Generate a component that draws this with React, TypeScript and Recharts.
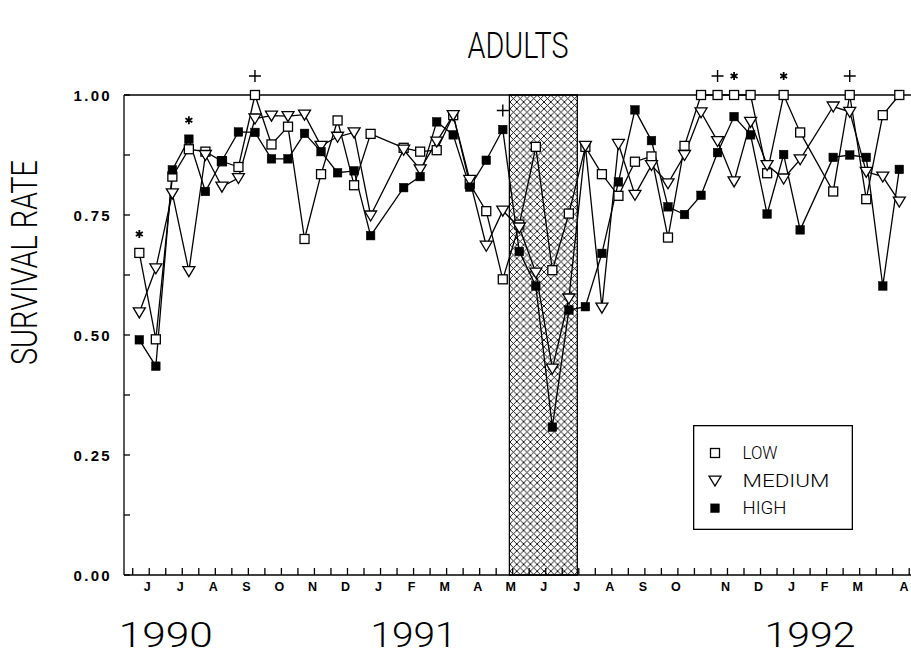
import { ComposedChart, Line, Scatter, XAxis, YAxis, ReferenceArea, ReferenceLine, Legend } from 'recharts'

// adult survival, one sample per half month from June 1990 (null = no sample that period)
const low = [0.671, 0.491, 0.830, 0.887, 0.882, 0.862, 0.850, 1.0, 0.897, 0.934, 0.700, 0.835, 0.947, 0.812, 0.919, null,
  0.890, 0.882, 0.885, 0.958, 0.815, 0.758, 0.616, 0.730, 0.892, 0.635, 0.753, 0.892, 0.835, 0.790, 0.861, 0.872,
  0.703, 0.894, 1.0, 1.0, 1.0, 1.0, 0.837, 1.0, 0.922, null, 0.799, 1.0, 0.783, 0.958, 1.0]
const medium = [0.547, 0.639, 0.795, 0.633, 0.875, 0.809, 0.827, 0.951, 0.957, 0.956, 0.959, 0.894, 0.913, 0.922, 0.749, null,
  0.886, 0.845, 0.903, 0.958, 0.823, 0.686, 0.759, 0.724, 0.630, 0.430, 0.576, 0.894, 0.557, 0.898, 0.792, 0.854,
  0.816, 0.875, 0.964, 0.904, 0.820, 0.944, 0.854, 0.826, 0.866, null, 0.976, 0.965, 0.840, 0.830, 0.778]
const high = [0.490, 0.435, 0.844, 0.908, 0.799, 0.863, 0.923, 0.922, 0.867, 0.867, 0.920, 0.882, 0.838, 0.842, 0.707, null,
  0.807, 0.830, 0.944, 0.917, 0.808, 0.864, 0.928, 0.674, 0.602, 0.308, 0.552, 0.559, 0.670, 0.819, 0.969, 0.905,
  0.767, 0.751, 0.791, 0.880, 0.955, 0.917, 0.752, 0.876, 0.719, null, 0.870, 0.875, 0.870, 0.602, 0.845]

// half-month ticks, labelled at mid-month
const monthLabels = ['', 'J', '', 'J', '', 'A', '', 'S', '', 'O', '', 'N', '', 'D', '', 'J', '', 'F', '', 'M', '', 'A', '',
  'M', '', 'J', '', 'J', '', 'A', '', 'S', '', 'O', '', '', 'N', '', 'D', '', 'J', '', 'F', '', 'M', '', '', 'A']
const yearLabels: Record<number, string> = { 2: '1990', 17: '1991', 41: '1992' }
const yearWidths: Record<string, number> = { '1990': 94, '1991': 86, '1992': 91 }

const leftTicks = [0, 0.125, 0.25, 0.375, 0.5, 0.625, 0.75, 0.875, 1]
const rightTicks = [0.25, 0.5, 0.75]

// drought period (shaded), in half-month units
const droughtStart = 22.8
const droughtEnd = 26.91

// significance marks above points
const marks = [
  { i: 0, series: 'low', mark: '*' },
  { i: 3, series: 'high', mark: '*' },
  { i: 7, series: 'low', mark: '+' },
  { i: 22, series: 'high', mark: '+' },
  { i: 35, series: 'low', mark: '+' },
  { i: 36, series: 'low', mark: '*' },
  { i: 39, series: 'low', mark: '*' },
  { i: 43, series: 'low', mark: '+' },
]

const legendOrder = ['low', 'medium', 'high']

const seriesMap: Record<string, (number | null)[]> = { low, medium, high }
const OFFSET = 0.4 // samples fall a little after each tick

const data = low.map((_, i) => ({ x: i + OFFSET, low: low[i], medium: medium[i], high: high[i] }))
const markData = marks.map((m) => ({ x: m.i + OFFSET, y: seriesMap[m.series][m.i], mark: m.mark }))

const LIGHT = 'Roboto, "Liberation Sans", sans-serif'
const BOLD = '"Liberation Sans", Arial, sans-serif'

const SW = 1.3

function OpenSquare({ cx, cy }: any) {
  return <rect x={cx - 4.5} y={cy - 4.5} width={9} height={9} fill="#fff" stroke="#000" strokeWidth={SW} />
}
function FilledSquare({ cx, cy }: any) {
  return <rect x={cx - 4.3} y={cy - 4.3} width={8.6} height={8.6} fill="#000" stroke="#000" strokeWidth={0.5} />
}
function DownTriangle({ cx, cy }: any) {
  return <polygon points={`${cx - 6},${cy - 4.5} ${cx + 6},${cy - 4.5} ${cx},${cy + 5.5}`} fill="#fff" stroke="#000" strokeWidth={SW} />
}

const dotFor = (Shape: any) => (p: any) => {
  if (p.cy == null || p.value == null) return <g key={`d-${p.index}`} />
  return <Shape key={`d-${p.index}`} cx={p.cx} cy={p.cy} />
}

function SigMark(props: any) {
  const { cx, cy, payload } = props
  const y = cy - 19
  if (payload.mark === '+') {
    return <path d={`M${cx - 6},${y}H${cx + 6}M${cx},${y - 6}V${y + 6}`} stroke="#000" strokeWidth={1.4} fill="none" />
  }
  const r = 4
  const d = [90, 30, 150].map((a) => {
    const dx = r * Math.cos((a * Math.PI) / 180)
    const dy = r * Math.sin((a * Math.PI) / 180)
    return `M${cx - dx},${y - dy}L${cx + dx},${y + dy}`
  }).join('')
  return <path d={d} stroke="#000" strokeWidth={1.8} fill="none" />
}

function MonthTick({ x, y, payload }: any) {
  const k = payload.value
  const year = yearLabels[k]
  return (
    <g>
      <line x1={x} x2={x} y1={y} y2={y - 7} stroke="#000" strokeWidth={SW} />
      <text x={Math.min(x - 2, 904)} y={y + 16} textAnchor="middle" fontFamily={BOLD} fontWeight="bold" fontSize={12.5} fill="#000">
        {monthLabels[k]}
      </text>
      {year && (
        <text x={x} y={y + 72} textAnchor="middle" fontFamily={LIGHT} fontWeight={300} fontSize={35} fill="#000"
          textLength={yearWidths[year]} lengthAdjust="spacingAndGlyphs">
          {year}
        </text>
      )}
    </g>
  )
}

function LeftTick({ x, y, payload }: any) {
  const v = payload.value
  const major = Math.abs(v * 4 - Math.round(v * 4)) < 1e-6
  return (
    <g>
      <line x1={x} x2={x + 6} y1={y} y2={y} stroke="#000" strokeWidth={SW} />
      {major && (
        <text x={x - 12} y={y + 5.5} textAnchor="end" fontFamily={BOLD} fontWeight="bold" fontSize={15}
          letterSpacing={2.3} fill="#000">
          {v.toFixed(2)}
        </text>
      )}
    </g>
  )
}

function RightTick({ x, y }: any) {
  return <line x1={x} x2={x - 7} y1={y} y2={y} stroke="#000" strokeWidth={SW} />
}

function LegendBox({ payload }: any) {
  const icons: Record<string, any> = { low: OpenSquare, medium: DownTriangle, high: FilledSquare }
  const widths: Record<string, number> = { low: 35, medium: 87, high: 44 }
  const byKey: Record<string, any> = {}
  ;(payload || []).forEach((p: any) => { byKey[p.dataKey] = p })
  const items = legendOrder.filter((k) => byKey[k]).map((k) => byKey[k])
  return (
    <svg width={160} height={105} style={{ display: 'block' }}>
      <rect x={0.65} y={0.65} width={158.7} height={103.7} fill="#fff" stroke="#000" strokeWidth={SW} />
      {items.map((p: any, i: number) => {
        const Icon = icons[p.dataKey]
        const cy = 28 + i * 27.6
        return (
          <g key={p.dataKey}>
            <Icon cx={22} cy={cy} />
            <text x={49.5} y={cy + 6} fontFamily={LIGHT} fontWeight={300} fontSize={17.5} fill="#000"
              textLength={widths[p.dataKey]} lengthAdjust="spacingAndGlyphs">
              {p.value}
            </text>
          </g>
        )
      })}
    </svg>
  )
}

export default function App() {
  return (
    <div style={{ position: 'absolute', left: 0, top: 0, width: 911, height: 656, overflow: 'hidden', background: '#fff' }}>
      <ComposedChart width={914} height={656} data={data} margin={{ top: 95, right: 0, bottom: 0, left: 0 }}>
        <defs>
          <pattern id="xhatch" width="6.8" height="6.8" patternUnits="userSpaceOnUse">
            <rect width="6.8" height="6.8" fill="#fff" />
            <path d="M0,0L6.8,6.8M6.8,0L0,6.8" stroke="#000" strokeWidth="0.9" />
          </pattern>
        </defs>
        <text x={518} y={58} textAnchor="middle" fontFamily={LIGHT} fontWeight={300} fontSize={36} fill="#000"
          textLength={101} lengthAdjust="spacingAndGlyphs">ADULTS</text>
        <text transform="translate(37,262.5) rotate(-90)" textAnchor="middle" fontFamily={LIGHT} fontWeight={300}
          fontSize={37} fill="#000" textLength={205} lengthAdjust="spacingAndGlyphs">SURVIVAL RATE</text>
        <XAxis type="number" dataKey="x" domain={[-0.527, 47.29]} ticks={monthLabels.map((_, k) => k)} interval={0}
          height={81} tickSize={0} tickMargin={0} tickLine={false} axisLine={{ stroke: '#000', strokeWidth: SW }}
          tick={<MonthTick />} />
        <YAxis yAxisId="l" type="number" domain={[0, 1]} ticks={leftTicks} interval={0} width={124}
          tickSize={0} tickMargin={0} tickLine={false} axisLine={{ stroke: '#000', strokeWidth: SW }} tick={<LeftTick />} />
        <YAxis yAxisId="r" orientation="right" type="number" domain={[0, 1]} ticks={rightTicks} interval={0} width={0}
          tickSize={0} tickMargin={0} tickLine={false} axisLine={false} tick={<RightTick />} />
        <ReferenceArea yAxisId="l" x1={droughtStart} x2={droughtEnd} y1={0} y2={1} fill="url(#xhatch)" fillOpacity={1}
          stroke="#000" strokeWidth={SW} />
        <ReferenceLine yAxisId="l" y={1} stroke="#000" strokeWidth={SW} />
        <Line yAxisId="l" dataKey="low" name="LOW" stroke="#000" strokeWidth={SW} connectNulls
          dot={dotFor(OpenSquare)} activeDot={false} isAnimationActive={false} />
        <Line yAxisId="l" dataKey="medium" name="MEDIUM" stroke="#000" strokeWidth={SW} connectNulls
          dot={dotFor(DownTriangle)} activeDot={false} isAnimationActive={false} />
        <Line yAxisId="l" dataKey="high" name="HIGH" stroke="#000" strokeWidth={SW} connectNulls
          dot={dotFor(FilledSquare)} activeDot={false} isAnimationActive={false} />
        <Scatter yAxisId="l" data={markData} dataKey="y" shape={<SigMark />} legendType="none" isAnimationActive={false} />
        <Legend layout="vertical" align="center" verticalAlign="middle" content={<LegendBox />}
          wrapperStyle={{ left: 693, top: 425, width: 160, height: 105 }} />
      </ComposedChart>
    </div>
  )
}
